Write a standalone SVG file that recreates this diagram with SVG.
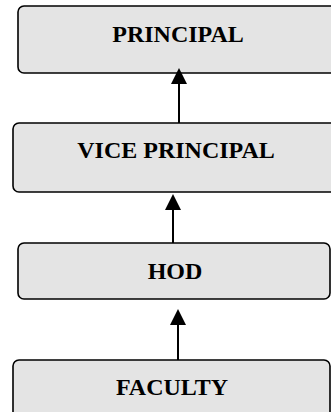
<svg xmlns="http://www.w3.org/2000/svg" width="331" height="412" viewBox="0 0 331 412">
<defs>
<style>
.box{fill:#e4e4e4;stroke:#000;stroke-width:1.6}
.lbl{font-family:"Liberation Serif","Times New Roman",serif;font-weight:bold;font-size:24px;text-anchor:middle;fill:#000}
.con{stroke:#000;stroke-width:2;fill:none}
.head{fill:#000}
</style>
</defs>
<rect width="331" height="412" fill="#fff"/>
<g id="principal">
<rect class="box" x="18" y="6" width="330" height="67" rx="6"/>
<text class="lbl" x="178" y="42">PRINCIPAL</text>
</g>
<g id="vice-principal">
<rect class="box" x="13" y="123" width="330" height="69" rx="6"/>
<text class="lbl" x="176" y="158">VICE PRINCIPAL</text>
</g>
<g id="hod">
<rect class="box" x="18" y="243" width="312" height="56" rx="6"/>
<text class="lbl" x="175" y="279">HOD</text>
</g>
<g id="faculty">
<rect class="box" x="13" y="360" width="317" height="70" rx="6"/>
<text class="lbl" x="172" y="395">FACULTY</text>
</g>
<g id="connectors">
<line class="con" x1="179" y1="123" x2="179" y2="82"/>
<polygon class="head" points="179,68 171,84 187,84"/>
<line class="con" x1="173" y1="243" x2="173" y2="208"/>
<polygon class="head" points="173,194 165,210 181,210"/>
<line class="con" x1="178" y1="360" x2="178" y2="323"/>
<polygon class="head" points="178,309 170,325 186,325"/>
</g>
</svg>
